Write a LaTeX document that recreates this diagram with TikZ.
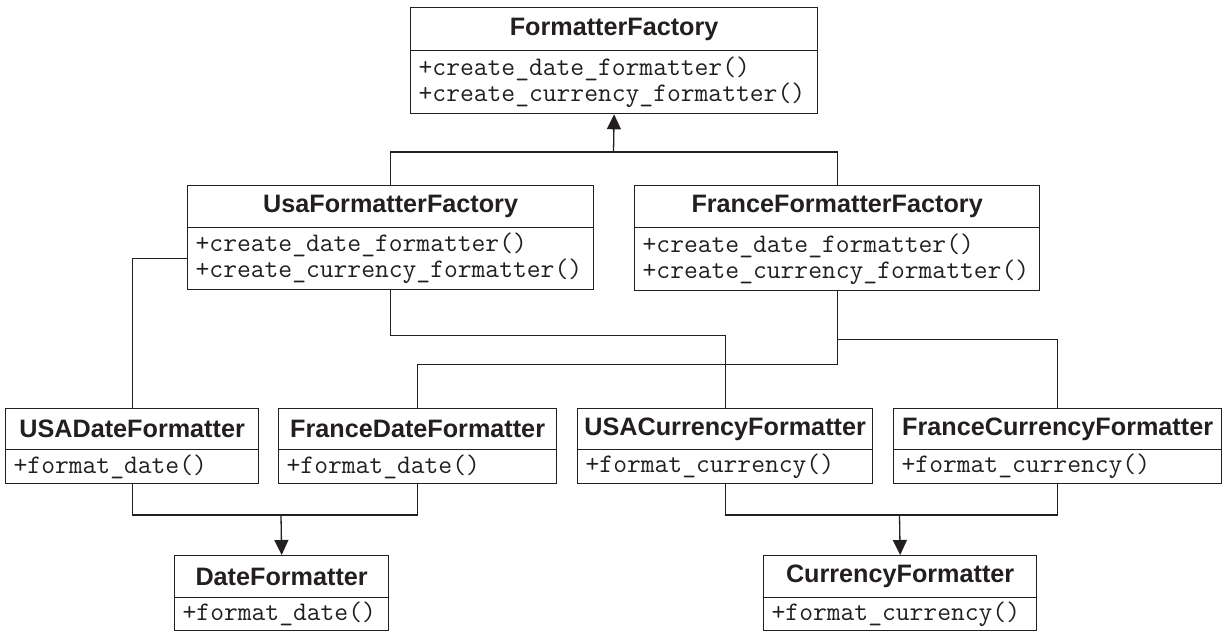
\documentclass[tikz,border=0pt]{standalone}
\usepackage{fontspec}
\setmainfont{Liberation Sans}
\usetikzlibrary{arrows.meta}
\definecolor{ink}{HTML}{231F20}
\newcommand\umlclass[8]{%
  \pgfmathsetmacro\ubw{(#3-#2)*0.5}%
  \pgfmathsetmacro\uth{(#5-#4)*0.5}%
  \pgfmathsetmacro\umh{(#6-#5)*0.5}%
  \pgfmathsetmacro\utw{(#3-#2)*0.5-8}%
  \node[titlebox,minimum width=\ubw pt,minimum height=\uth pt] (#1) at (#2,#4) {#7};
  \node[methbox,text width=\utw pt,minimum height=\umh pt] (#1m) at (#2,#5) {#8};
}
\begin{document}
\begin{tikzpicture}[x=0.5pt,y=-0.5pt,
  titlebox/.style={draw=ink,line width=0.65pt,fill=white,rectangle,inner sep=0pt,anchor=north west,text=ink,
    font=\bfseries\fontsize{12.6}{14}\selectfont},
  methbox/.style={draw=ink,line width=0.65pt,fill=white,rectangle,inner xsep=4pt,inner ysep=0pt,anchor=north west,
    align=left,text=ink,font=\ttfamily\fontsize{13.4}{13}\selectfont},
  conn/.style={draw=ink,line width=0.65pt},
  arr/.style={conn,-{Triangle[width=7pt,length=7.5pt]}}]
\useasboundingbox (0,0) rectangle (1228,637);
\umlclass{ff}{410}{817}{7}{50}{113}{FormatterFactory}{+create\_date\_formatter()\\+create\_currency\_formatter()}
\umlclass{usa}{187}{593}{185}{227}{289}{UsaFormatterFactory}{+create\_date\_formatter()\\+create\_currency\_formatter()}
\umlclass{fra}{634}{1039}{185}{227}{290}{FranceFormatterFactory}{+create\_date\_formatter()\\+create\_currency\_formatter()}
\umlclass{usadate}{5}{258}{408}{449}{483}{USADateFormatter}{+format\_date()}
\umlclass{fradate}{278}{556}{408}{449}{483}{FranceDateFormatter}{+format\_date()}
\umlclass{usacur}{577}{872}{408}{449}{483}{USACurrencyFormatter}{+format\_currency()}
\umlclass{fracur}{893}{1221}{408}{449}{483}{FranceCurrencyFormatter}{+format\_currency()}
\umlclass{datef}{174}{388}{555}{597}{630}{DateFormatter}{+format\_date()}
\umlclass{curf}{763}{1036}{555}{597}{630}{CurrencyFormatter}{+format\_currency()}
% junctions
\coordinate (j1) at (613.5,152);
\coordinate (j2) at (281,515);
\coordinate (j3) at (899.5,515);
% inheritance of factories
\draw[conn] (usa.north) |- (j1) -| (fra.north);
\draw[arr] (j1) -- (ffm.south);
% factory products
\draw[conn] (usam.west) -| (usadate.north);
\draw[conn] (usam.south) -- ++(0,45) -| (usacur.north);
\draw[conn] (fram.south) -- ++(0,73) -| (fradate.north);
\draw[conn] ([yshift=-24pt]fram.south) -| (fracur.north);
% product inheritance
\draw[conn] (usadatem.south) |- (j2) -| (fradatem.south);
\draw[arr] (j2) -- (datef.north);
\draw[conn] (usacurm.south) |- (j3) -| (fracurm.south);
\draw[arr] (j3) -- (curf.north);
\end{tikzpicture}
\end{document}
